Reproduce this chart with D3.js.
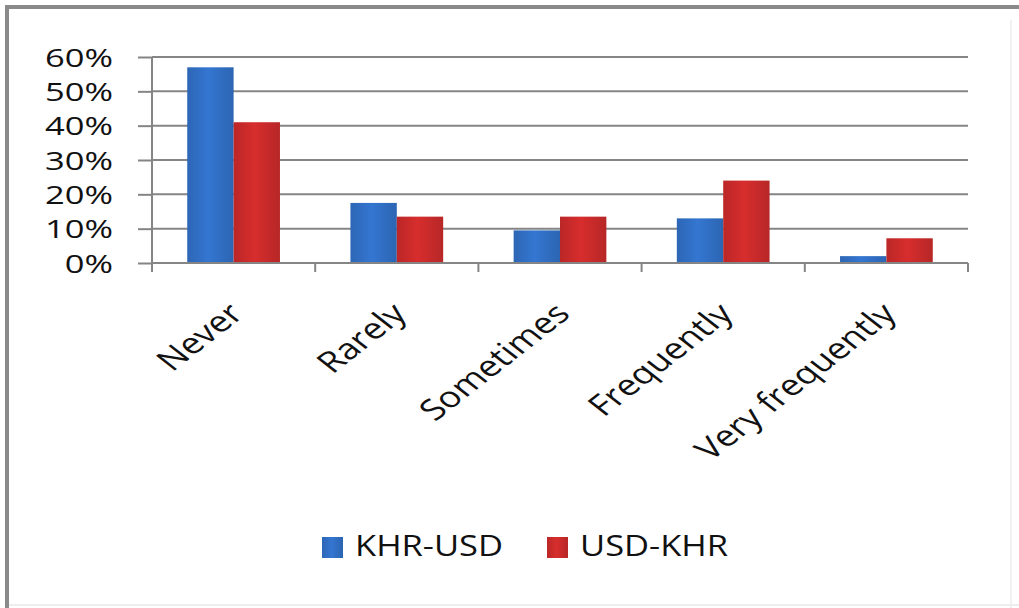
<!DOCTYPE html>
<html>
<head>
<meta charset="utf-8">
<script src="https://cdn.jsdelivr.net/npm/d3@7"></script>
<style>
  body { margin: 0; background: #fff; }
  svg { display: block; }
  text { font-family: "Open Sans", sans-serif; fill: #111; }
</style>
</head>
<body>
<div id="chart"></div>
<script>
// Data
const categories = ["Never", "Rarely", "Sometimes", "Frequently", "Very frequently"];
const seriesNames = ["KHR-USD", "USD-KHR"];
const khrUsd = [0.57, 0.175, 0.095, 0.13, 0.02];
const usdKhr = [0.41, 0.135, 0.135, 0.24, 0.072];
const yTicks = [0, 0.1, 0.2, 0.3, 0.4, 0.5, 0.6];

const colours = new Map()
    .set("KHR-USD", "#3170c6")
    .set("USD-KHR", "#cc2b2b");

const W = 1019, H = 608;
const plot = { left: 152, right: 968, top: 57, bottom: 263 };
const stretch = 1.28; // the picture is a bit wider than tall

const svg = d3.select("#chart")
    .append("svg")
        .attr("width", W)
        .attr("height", H)
;

// Bar gradients (light in the middle, like the old office charts)
const defs = svg.append("defs");
seriesNames.forEach((s, i) => {
    const base = d3.color(colours.get(s));
    const g = defs.append("linearGradient")
        .attr("id", "grad" + i)
        .attr("x1", 0).attr("x2", 1).attr("y1", 0).attr("y2", 0);
    g.append("stop").attr("offset", "0%").attr("stop-color", base.darker(0.25));
    g.append("stop").attr("offset", "45%").attr("stop-color", base.brighter(0.15));
    g.append("stop").attr("offset", "100%").attr("stop-color", base.darker(0.3));
});

// Frame
svg.append("line").attr("x1", 5).attr("x2", W).attr("y1", 7).attr("y2", 7)
    .attr("stroke", "#8a8a8a").attr("stroke-width", 4);
svg.append("line").attr("x1", 7).attr("x2", 7).attr("y1", 5).attr("y2", H)
    .attr("stroke", "#8a8a8a").attr("stroke-width", 4);
svg.append("line").attr("x1", 1011).attr("x2", 1011).attr("y1", 20).attr("y2", H)
    .attr("stroke", "#ececec").attr("stroke-width", 1.5);
svg.append("line").attr("x1", 9).attr("x2", W).attr("y1", 605).attr("y2", 605)
    .attr("stroke", "#e8e8e8").attr("stroke-width", 1.5);

// Scales
const x0 = d3.scaleBand()
    .domain(categories)
    .range([plot.left, plot.right])
    .padding(0)
;
const x1 = d3.scaleBand()
    .domain(seriesNames)
    .range([0, x0.bandwidth()])
    .paddingInner(0)
    .paddingOuter(0.76)
;
const y = d3.scaleLinear()
    .domain([0, 0.6])
    .range([plot.bottom, plot.top])
;

// Gridlines
svg.append("g")
    .attr("class", "gridlines")
    .selectAll("line")
        .data(yTicks.slice(1))
        .join("line")
            .attr("x1", plot.left)
            .attr("x2", plot.right)
            .attr("y1", d => y(d))
            .attr("y2", d => y(d))
            .attr("stroke", "#858585")
            .attr("stroke-width", 2)
;

// Bars
const rows = categories.map((c, i) => ({ cat: c, values: [khrUsd[i], usdKhr[i]] }));
svg.append("g")
    .attr("id", "bars")
    .selectAll("g")
        .data(rows)
        .join("g")
            .attr("transform", d => `translate(${x0(d.cat)},0)`)
        .selectAll("rect")
            .data(d => d.values.map((v, i) => ({ s: seriesNames[i], v: v, i: i })))
            .join("rect")
                .attr("x", d => x1(d.s))
                .attr("y", d => y(d.v))
                .attr("width", x1.bandwidth())
                .attr("height", d => y(0) - y(d.v))
                .attr("fill", d => `url(#grad${d.i})`)
;

// Y axis
const yAxis = svg.append("g")
    .attr("transform", `translate(${plot.left},0)`)
    .call(d3.axisLeft(y).tickValues(yTicks).tickSize(14).tickFormat(d3.format(".0%")))
;
yAxis.select(".domain").attr("stroke", "#858585").attr("stroke-width", 2).attr("d", `M0,${plot.top}V${plot.bottom}`);
yAxis.selectAll(".tick line").attr("stroke", "#858585").attr("stroke-width", 2);
yAxis.selectAll(".tick text")
    .attr("x", null)
    .attr("dy", null)
    .attr("text-anchor", "end")
    .attr("transform", `translate(-39,9) scale(1.38,1)`)
    .style("font-size", "25px")
    .style("font-family", "'Open Sans', sans-serif")
    .attr("fill", "#111")
;

// X axis: baseline and tick marks on band edges
const xEdges = categories.map(c => x0(c)).concat([x0.range()[1]]);
const xAxis = svg.append("g").attr("id", "x-axis");
xAxis.append("line")
    .attr("x1", plot.left).attr("x2", plot.right)
    .attr("y1", y(0)).attr("y2", y(0))
    .attr("stroke", "#858585").attr("stroke-width", 2)
;
xAxis.selectAll("line.tick")
    .data(xEdges)
    .join("line")
        .attr("class", "tick")
        .attr("x1", d => d).attr("x2", d => d)
        .attr("y1", y(0)).attr("y2", y(0) + 9)
        .attr("stroke", "#858585").attr("stroke-width", 2)
;
xAxis.selectAll("text")
    .data(categories)
    .join("text")
        .attr("text-anchor", "end")
        .attr("transform", d => `translate(${x0(d) + x0.bandwidth() / 2 - 8},300) scale(${stretch},1) rotate(-45)`)
        .attr("dy", "0.75em")
        .style("font-size", "29px")
        .text(d => d)
;

// Legend
const legend = svg.append("g").attr("id", "legend");
const legendX = [322, 547];
seriesNames.forEach((s, i) => {
    legend.append("rect")
        .attr("x", legendX[i])
        .attr("y", 537)
        .attr("width", 21)
        .attr("height", 21)
        .attr("fill", `url(#grad${i})`);
    legend.append("text")
        .attr("transform", `translate(${legendX[i] + 33},556) scale(1.17,1)`)
        .style("font-size", "29.5px")
        .text(s);
});
</script>
</body>
</html>
